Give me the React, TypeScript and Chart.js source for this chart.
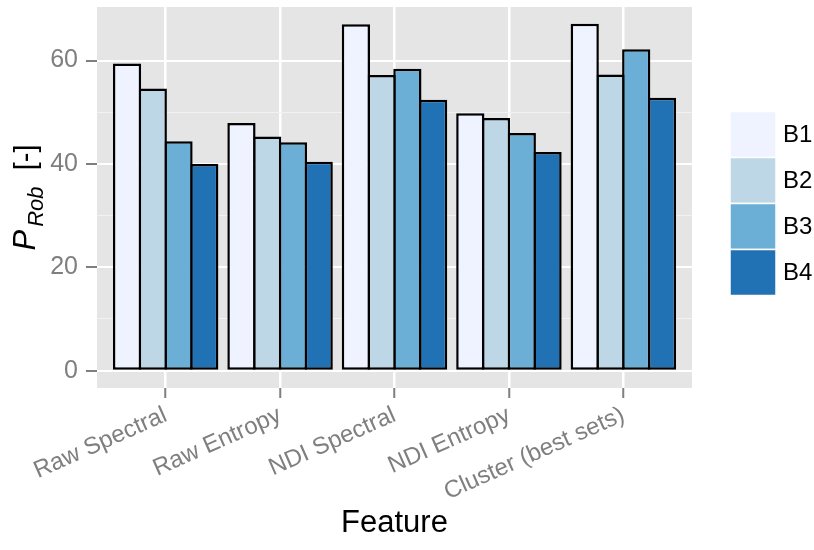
import React, { useEffect, useRef } from 'react';
import { Chart, registerables } from 'chart.js';

Chart.register(...registerables);

const categories = ['Raw Spectral', 'Raw Entropy', 'NDI Spectral', 'NDI Entropy', 'Cluster (best sets)'];
const seriesNames = ['B1', 'B2', 'B3', 'B4'];
const b1 = [59.4, 47.9, 67.0, 49.8, 67.1];
const b2 = [54.6, 45.3, 57.2, 48.9, 57.3];
const b3 = [44.4, 44.2, 58.4, 46.0, 62.2];
const b4 = [40.0, 40.4, 52.4, 42.3, 52.8];
const seriesValues = [b1, b2, b3, b4];
const seriesColors = ['#EFF3FF', '#BDD7E7', '#6BAED6', '#2171B5'];
const yTickValues = [0, 10, 20, 30, 40, 50, 60];
const yMajorStep = 20;
const xAxisTitle = 'Feature';
const yTitleMain = 'P';
const yTitleSub = 'Rob';
const yTitleUnit = '  [-]';

const FONT = "'Liberation Sans', Arial, sans-serif";

const panelBg = {
  id: 'panelBg',
  beforeDraw(chart: any) {
    const { ctx, chartArea } = chart;
    ctx.save();
    ctx.fillStyle = '#E5E5E5';
    ctx.fillRect(chartArea.left, chartArea.top, chartArea.right - chartArea.left, chartArea.bottom - chartArea.top);
    ctx.restore();
  },
};

const legendPlugin = {
  id: 'ggLegend',
  afterDraw(chart: any) {
    const { ctx, chartArea } = chart;
    const keySize = 46;
    const x0 = chartArea.right + 38;
    const n = chart.data.datasets.length;
    const yc = (chartArea.top + chartArea.bottom) / 2 + 6;
    const y0 = yc - (n * keySize) / 2;
    ctx.save();
    chart.data.datasets.forEach((ds: any, i: number) => {
      const y = y0 + i * keySize;
      ctx.fillStyle = ds.backgroundColor;
      ctx.fillRect(x0, y, keySize, keySize);
      ctx.strokeStyle = '#FFFFFF';
      ctx.lineWidth = 1.5;
      ctx.strokeRect(x0, y, keySize, keySize);
      ctx.fillStyle = '#000000';
      ctx.font = `24px ${FONT}`;
      ctx.textAlign = 'left';
      ctx.textBaseline = 'middle';
      ctx.fillText(ds.label, x0 + keySize + 7, y + keySize / 2 + 1);
    });
    ctx.restore();
  },
};

const yTitlePlugin = {
  id: 'yTitle',
  afterDraw(chart: any) {
    const { ctx, chartArea } = chart;
    const cy = (chartArea.top + chartArea.bottom) / 2;
    const cx = 35;
    ctx.save();
    ctx.translate(cx, cy);
    ctx.rotate(-Math.PI / 2);
    ctx.fillStyle = '#000000';
    ctx.textBaseline = 'alphabetic';
    ctx.textAlign = 'left';
    const mainFont = `italic 31px ${FONT}`;
    const subFont = `italic 22px ${FONT}`;
    const unitFont = `29px ${FONT}`;
    ctx.font = mainFont;
    const w1 = ctx.measureText(yTitleMain).width;
    ctx.font = subFont;
    const w2 = ctx.measureText(yTitleSub).width;
    ctx.font = unitFont;
    const w3 = ctx.measureText(yTitleUnit).width;
    let x = -(w1 + w2 + w3 + 3) / 2;
    ctx.font = mainFont;
    ctx.fillText(yTitleMain, x, 0);
    x += w1 + 3;
    ctx.font = subFont;
    ctx.fillText(yTitleSub, x, 8);
    x += w2;
    ctx.font = unitFont;
    ctx.fillText(yTitleUnit, x, 0);
    ctx.restore();
  },
};

export default function App() {
  const canvasRef = useRef<HTMLCanvasElement | null>(null);

  useEffect(() => {
    if (!canvasRef.current) return;
    const datasets = seriesNames.map((name, si) => ({
      label: name,
      data: seriesValues[si].map((v, ci) => ({ x: ci + 1, y: v })),
      backgroundColor: seriesColors[si],
      borderColor: '#000000',
      borderWidth: 2.5,
      borderSkipped: false as const,
      inflateAmount: 0,
      categoryPercentage: 0.9,
      barPercentage: 1.097,
    }));

    const chart = new Chart(canvasRef.current, {
      type: 'bar',
      data: { datasets },
      plugins: [panelBg, legendPlugin, yTitlePlugin],
      options: {
        animation: false,
        responsive: false,
        maintainAspectRatio: false,
        layout: { padding: { left: 0, top: 7, right: 122, bottom: 0 } },
        datasets: { bar: { categoryPercentage: 0.9, barPercentage: 1.097 } },
        plugins: {
          legend: { display: false },
          tooltip: { enabled: false },
        },
        scales: {
          x: {
            type: 'linear',
            min: 0.4,
            max: 5.6,
            offset: false,
            afterBuildTicks: (scale: any) => {
              scale.ticks = categories.map((_, i) => ({ value: i + 1 }));
            },
            afterFit: (scale: any) => {
              scale.height = 162;
              scale.paddingLeft = 0;
              scale.paddingRight = 0;
            },
            grid: {
              offset: false,
              color: '#FFFFFF',
              lineWidth: 2.5,
              tickColor: '#7F7F7F',
              tickWidth: 2,
              tickLength: 10,
              drawTicks: true,
            },
            border: { display: false },
            ticks: {
              autoSkip: false,
              minRotation: 24,
              maxRotation: 24,
              padding: 3,
              color: '#7F7F7F',
              font: { family: FONT, size: 24 },
              callback: (v: any) => categories[Math.round(Number(v)) - 1] ?? '',
            },
            title: {
              display: true,
              text: xAxisTitle,
              color: '#000000',
              font: { family: FONT, size: 31 },
              padding: { top: 0, bottom: 8 },
            },
          },
          y: {
            type: 'linear',
            min: -3.35,
            max: 70.35,
            afterBuildTicks: (scale: any) => {
              scale.ticks = yTickValues.map((v) => ({ value: v }));
            },
            afterFit: (scale: any) => {
              scale.width = 97;
              scale.paddingTop = 0;
              scale.paddingBottom = 0;
            },
            grid: {
              color: (c: any) => (c.tick && c.tick.value % yMajorStep === 0 ? '#FFFFFF' : '#F2F2F2'),
              lineWidth: (c: any) => (c.tick && c.tick.value % yMajorStep === 0 ? 2 : 1),
              tickColor: (c: any) => (c.tick && c.tick.value % yMajorStep === 0 ? '#7F7F7F' : 'rgba(0,0,0,0)'),
              tickWidth: 2,
              tickLength: 11,
              drawTicks: true,
            },
            border: { display: false },
            ticks: {
              padding: 8,
              color: '#7F7F7F',
              font: { family: FONT, size: 25 },
              callback: (v: any) => (Number(v) % yMajorStep === 0 ? String(v) : ''),
            },
          },
        },
      } as any,
    });

    return () => {
      chart.destroy();
    };
  }, []);

  return (
    <div style={{ position: 'absolute', left: 0, top: 0, width: 814, height: 550, background: '#FFFFFF' }}>
      <canvas ref={canvasRef} width={814} height={550} style={{ width: 814, height: 550, display: 'block' }} />
    </div>
  );
}
